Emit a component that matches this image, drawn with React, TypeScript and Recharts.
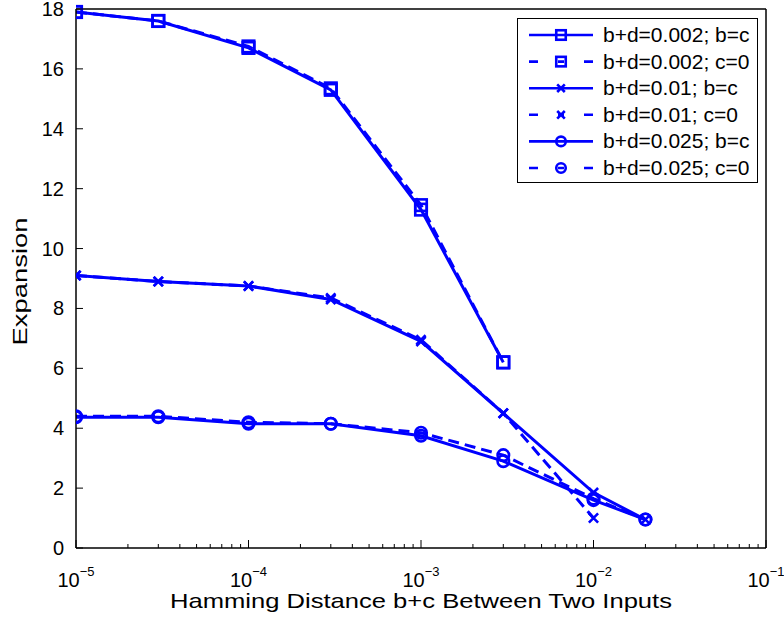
import { Legend, Line, LineChart, XAxis, YAxis } from "recharts";

// hamming distance b+c (x positions of every run)
const hamming = [1e-5, 3e-5, 1e-4, 3e-4, 1e-3, 3e-3, 1e-2, 2e-2];

// expansion per setting, null = not measured
const bd002BC = [17.9, 17.6, 16.7, 15.3, 11.3, 6.2, null, null];
const bd002C0 = [17.9, 17.6, 16.75, 15.35, 11.45, 6.2, null, null];
const bd01BC = [9.1, 8.9, 8.75, 8.3, 6.9, 4.5, 1.85, 0.95];
const bd01C0 = [9.1, 8.9, 8.75, 8.35, 6.95, 4.5, 1.0, null];
const bd025BC = [4.37, 4.37, 4.15, 4.15, 3.75, 2.9, 1.6, 0.95];
const bd025C0 = [4.4, 4.4, 4.2, 4.15, 3.85, 3.1, 1.65, 0.95];

const xMajor = [1e-5, 1e-4, 1e-3, 1e-2, 1e-1];
const xMinorSteps = [2, 3, 4, 5, 6, 7, 8, 9];
const yTicks = [0, 2, 4, 6, 8, 10, 12, 14, 16, 18];

const xMinor = xMajor.slice(0, -1).flatMap((d) => xMinorSteps.map((k) => k * d));
const xAllTicks = [...xMajor, ...xMinor];

const data = hamming.map((x, i) => ({
  x,
  s1: bd002BC[i],
  s2: bd002C0[i],
  s3: bd01BC[i],
  s4: bd01C0[i],
  s5: bd025BC[i],
  s6: bd025C0[i],
}));

type Shape = "square" | "x" | "circle";

const series: { key: string; name: string; shape: Shape; dashed: boolean }[] = [
  { key: "s1", name: "b+d=0.002; b=c", shape: "square", dashed: false },
  { key: "s2", name: "b+d=0.002; c=0", shape: "square", dashed: true },
  { key: "s3", name: "b+d=0.01; b=c", shape: "x", dashed: false },
  { key: "s4", name: "b+d=0.01; c=0", shape: "x", dashed: true },
  { key: "s5", name: "b+d=0.025; b=c", shape: "circle", dashed: false },
  { key: "s6", name: "b+d=0.025; c=0", shape: "circle", dashed: true },
];

const BLUE = "#0000ff";
const FONT = "'Liberation Sans', Arial, Helvetica, sans-serif";
const AXIS = { stroke: "#000", strokeWidth: 1.5 };

const marker = (shape: Shape, cx: number, cy: number, size: number, key?: string) => {
  const h = size / 2;
  if (shape === "square")
    return (
      <rect key={key} x={cx - h} y={cy - h} width={size} height={size} fill="none" stroke={BLUE} strokeWidth={2.6} />
    );
  if (shape === "circle")
    return <circle key={key} cx={cx} cy={cy} r={h} fill="none" stroke={BLUE} strokeWidth={2.6} />;
  const k = h * 0.8;
  return (
    <path
      key={key}
      d={`M${cx - k},${cy - k}L${cx + k},${cy + k}M${cx - k},${cy + k}L${cx + k},${cy - k}`}
      stroke={BLUE}
      strokeWidth={2.6}
      fill="none"
    />
  );
};

const isMajor = (v: number) => xMajor.some((m) => Math.abs(m - v) / m < 1e-6);

// bottom axis: inward tick line + 10^n label
const XTick = (props: any) => {
  const { x, y, payload } = props;
  const major = isMajor(payload.value);
  const exp = Math.round(Math.log10(payload.value));
  return (
    <g>
      <line x1={x} x2={x} y1={y} y2={y - (major ? 8 : 4)} stroke="#000" strokeWidth={1} />
      {major && (
        <text x={x} y={y + 39} textAnchor="middle" fontFamily={FONT} fontSize={20} fill="#000">
          10
          <tspan dy={-11} fontSize={13}>
            {`\u2212${Math.abs(exp)}`}
          </tspan>
        </text>
      )}
    </g>
  );
};

// top axis: inward tick line only
const TopTick = (props: any) => {
  const { x, y, payload } = props;
  const major = isMajor(payload.value);
  return <line x1={x} x2={x} y1={y} y2={y + (major ? 8 : 4)} stroke="#000" strokeWidth={1} />;
};

const YTick = (props: any) => {
  const { x, y, payload } = props;
  return (
    <g>
      <line x1={x} x2={x + 7} y1={y} y2={y} stroke="#000" strokeWidth={1} />
      <text x={x - 12} y={y} dy="0.35em" textAnchor="end" fontFamily={FONT} fontSize={20} fill="#000">
        {payload.value}
      </text>
    </g>
  );
};

const RightTick = (props: any) => {
  const { x, y } = props;
  return <line x1={x} x2={x - 7} y1={y} y2={y} stroke="#000" strokeWidth={1} />;
};

const LegendBox = () => (
  <div style={{ border: "1px solid #000", background: "#fff", width: 239, height: 163 }}>
    <svg width={239} height={163}>
      {series.map((s, i) => {
        const cy = 16 + i * 26.6;
        return (
          <g key={s.key}>
            <line
              x1={11}
              x2={75}
              y1={cy}
              y2={cy}
              stroke={BLUE}
              strokeWidth={2.6}
              strokeDasharray={s.dashed ? "9 20 6 20 9" : undefined}
            />
            {marker(s.shape, 43, cy, 9.5)}
            <text
              transform={`translate(85,${cy}) scale(1.05,1)`}
              dy="0.35em"
              fontFamily={FONT}
              fontSize={20}
              fill="#000"
            >
              {s.name}
            </text>
          </g>
        );
      })}
    </svg>
  </div>
);

const App = () => {
  return (
    <div style={{ position: "absolute", left: 0, top: 0, background: "#fff" }}>
      <LineChart width={784} height={628} data={data} margin={{ top: 8, right: 17, left: 0, bottom: 0 }}>
        <XAxis
          xAxisId="top"
          orientation="top"
          height={1}
          type="number"
          scale="log"
          domain={[1e-5, 1e-1]}
          allowDataOverflow
          ticks={xAllTicks}
          interval={0}
          tickSize={0}
          tickMargin={0}
          tickLine={false}
          axisLine={AXIS}
          tick={<TopTick />}
        />
        <YAxis
          yAxisId="right"
          orientation="right"
          width={1}
          type="number"
          domain={[0, 18]}
          ticks={yTicks}
          interval={0}
          tickSize={0}
          tickMargin={0}
          tickLine={false}
          axisLine={AXIS}
          tick={<RightTick />}
        />
        <XAxis
          xAxisId="x"
          dataKey="x"
          type="number"
          scale="log"
          domain={[1e-5, 1e-1]}
          allowDataOverflow
          ticks={xAllTicks}
          interval={0}
          height={80}
          tickSize={0}
          tickMargin={0}
          tickLine={false}
          axisLine={AXIS}
          tick={<XTick />}
          label={{
            content: (p: any) => {
              const vb = p.viewBox;
              return (
                <text
                  x={vb.x + vb.width / 2}
                  y={608}
                  textAnchor="middle"
                  fontFamily={FONT}
                  fontSize={21}
                  textLength={502}
                  lengthAdjust="spacingAndGlyphs"
                  fill="#000"
                >
                  Hamming Distance b+c Between Two Inputs
                </text>
              );
            },
          }}
        />
        <YAxis
          yAxisId="y"
          type="number"
          domain={[0, 18]}
          ticks={yTicks}
          interval={0}
          width={76}
          tickSize={0}
          tickMargin={0}
          tickLine={false}
          axisLine={AXIS}
          tick={<YTick />}
          label={{
            content: (p: any) => {
              const vb = p.viewBox;
              const cy = vb.y + vb.height / 2 + 3;
              return (
                <text
                  x={27}
                  y={cy}
                  transform={`rotate(-90 27 ${cy})`}
                  textAnchor="middle"
                  fontFamily={FONT}
                  fontSize={21}
                  textLength={128}
                  lengthAdjust="spacingAndGlyphs"
                  fill="#000"
                >
                  Expansion
                </text>
              );
            },
          }}
        />

        <Legend
          layout="vertical"
          align="center"
          verticalAlign="middle"
          content={<LegendBox />}
          wrapperStyle={{ left: 517, top: 18, width: 241, height: 165 }}
        />

        {series.map((s) => (
          <Line
            key={s.key}
            xAxisId="x"
            yAxisId="y"
            dataKey={s.key}
            name={s.name}
            type="linear"
            stroke={BLUE}
            strokeWidth={3}
            strokeDasharray={s.dashed ? "11 6" : undefined}
            isAnimationActive={false}
            activeDot={false}
            dot={(p: any) =>
              p.cx == null || p.cy == null || p.value == null ? (
                <g key={`${s.key}-${p.index}`} />
              ) : (
                marker(s.shape, p.cx, p.cy, 11.5, `${s.key}-${p.index}`)
              )
            }
          />
        ))}
      </LineChart>
    </div>
  );
};

export default App;
